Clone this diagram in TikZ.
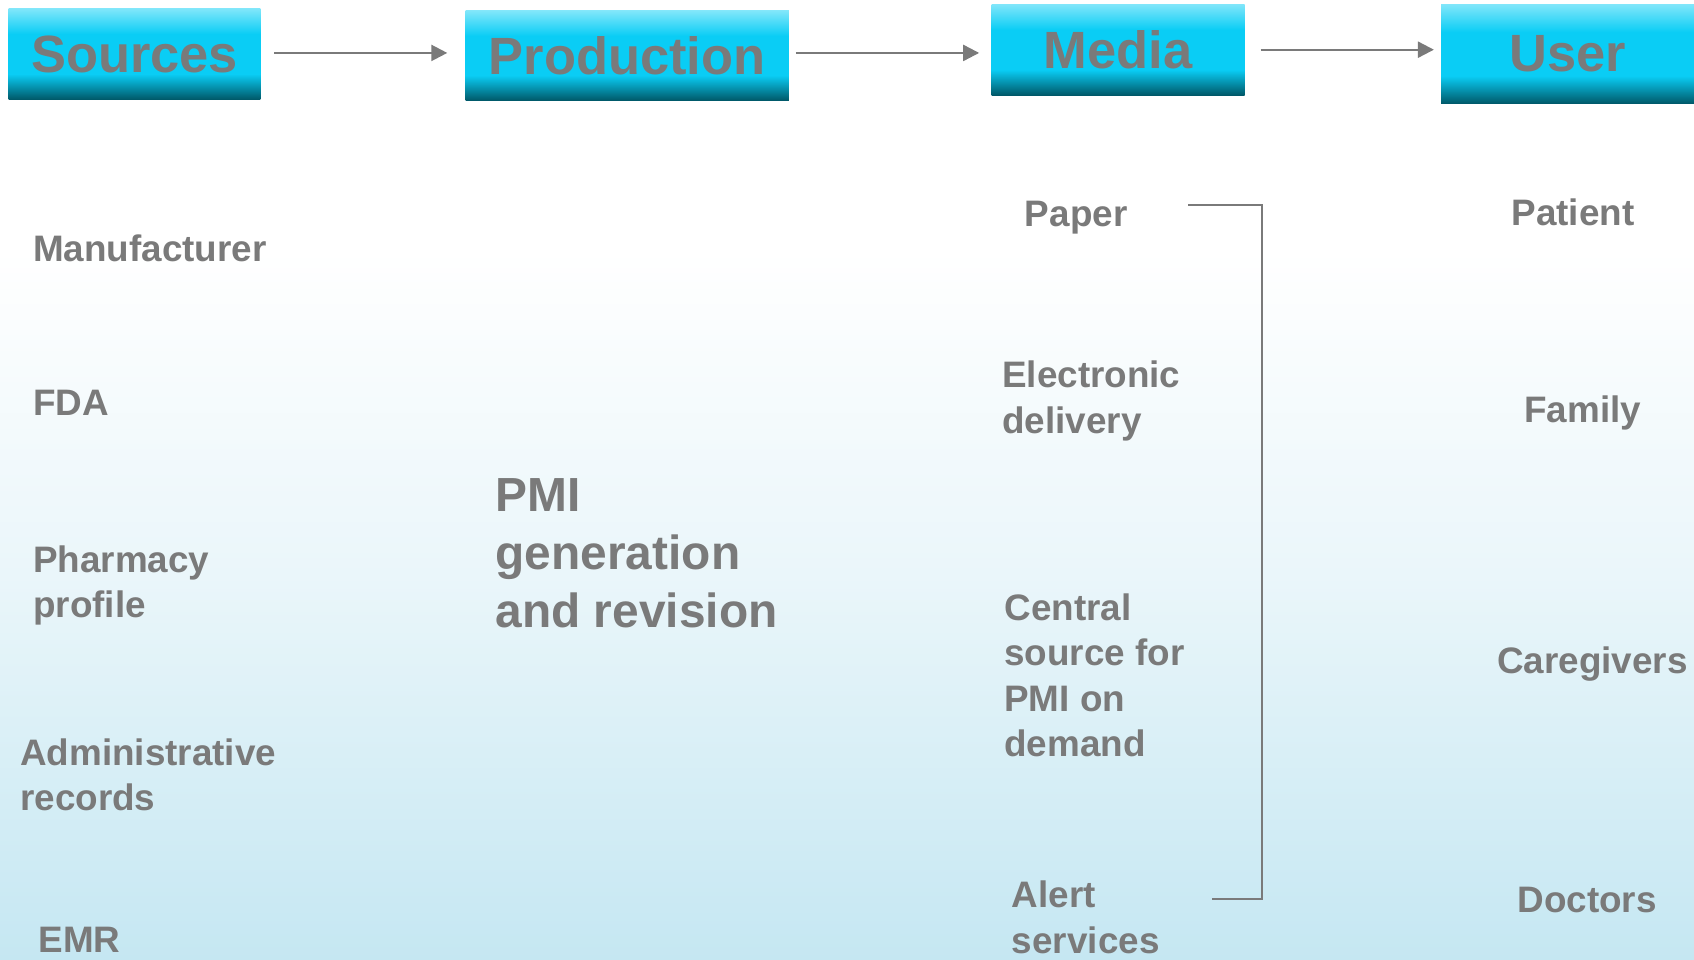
\documentclass[tikz,border=0pt]{standalone}
\usepackage{fontspec}
\setmainfont{Liberation Sans}
\usetikzlibrary{arrows.meta}
\definecolor{txtgray}{RGB}{122,122,122}
\definecolor{hdrlight}{RGB}{128,230,250}
\definecolor{hdrcyan}{RGB}{10,205,245}
\definecolor{hdrdark}{RGB}{0,88,104}
\definecolor{bglow}{RGB}{197,231,242}
\definecolor{bgmid}{RGB}{234,246,250}
\pgfdeclareverticalshading{hdrshade}{100bp}{color(0bp)=(hdrdark); color(25bp)=(hdrdark); color(39bp)=(hdrcyan); color(61bp)=(hdrcyan); color(75bp)=(hdrlight); color(100bp)=(hdrlight)}
\pgfdeclareverticalshading{bgshade}{100bp}{color(0bp)=(bglow); color(25bp)=(bglow); color(45bp)=(bgmid); color(62bp)=(white); color(100bp)=(white)}
\begin{document}
\begin{tikzpicture}[x=0.01cm,y=-0.01cm,
  hdr/.style={shade,shading=hdrshade,text=txtgray,inner sep=0pt,
    font=\fontsize{13.8}{16}\selectfont\bfseries},
  lbl/.style={text=txtgray,align=left,anchor=west,inner sep=0pt,
    font=\fontsize{9.7}{11.95}\selectfont\bfseries},
  pmi/.style={lbl,font=\fontsize{12.6}{15.2}\selectfont\bfseries},
  usr/.style={lbl,anchor=center},
  arr/.style={draw=txtgray,line width=0.6pt,-{Triangle[length=4.2pt,width=4.2pt]}}]
  \useasboundingbox (0,0) rectangle (1568,888);
  \fill[shading=bgshade] (0,0) rectangle (1568,888);

  % draw headers
  \node[hdr,minimum width=2.33cm,minimum height=0.84cm] (sources) at (124.5,50) {Sources};
  \node[hdr,minimum width=2.99cm,minimum height=0.83cm] (production) at (580.5,51.5) {Production};
  \node[hdr,minimum width=2.34cm,minimum height=0.84cm] (media) at (1035,46) {Media};
  \node[hdr,minimum width=2.34cm,minimum height=0.92cm] (user) at (1451,50) {User};

  % draw arrows
  \draw[arr,shorten <=3.4pt,shorten >=4.6pt] ([yshift=0.01cm]sources.east) -- ([yshift=0.01cm]sources.east -| production.west);
  \draw[arr,shorten <=1.7pt,shorten >=3.1pt] ([yshift=0.025cm]production.east) -- ([yshift=0.025cm]production.east -| media.west);
  \draw[arr,shorten <=4pt,shorten >=1.7pt] (media.east) -- (media.east -| user.west);

  % sources
  \node[lbl] (manufacturer) at (30,230) {Manufacturer};
  \node[lbl] (fda) at (30,373) {FDA};
  \node[lbl] (pharmacy) at (30,542) {Pharmacy\\profile};
  \node[lbl] (admin) at (18,717) {Administrative\\records};
  \node[lbl] (emr) at (35,870) {EMR};

  % production
  \node[pmi] (pmi) at (458,512) {PMI\\generation\\and revision};

  % media
  \node[lbl] (paper) at (948,201) {Paper};
  \node[lbl] (electronic) at (927,371) {Electronic\\delivery};
  \node[lbl] (central) at (929,625) {Central\\source for\\PMI on\\demand};
  \node[lbl] (alert) at (936,849) {Alert\\services};

  % bracket
  \coordinate (brtop) at (1100,190);
  \coordinate (brbot) at (1122,832);
  \draw[txtgray,line width=0.45pt] (brtop) -- ++(68,0) |- (brbot);

  % users
  \node[usr] (patient) at (1456,197) {Patient};
  \node[usr] (family) at (1465,382) {Family};
  \node[usr] (caregivers) at (1474,615) {Caregivers};
  \node[usr] (doctors) at (1469,833) {Doctors};
\end{tikzpicture}
\end{document}
